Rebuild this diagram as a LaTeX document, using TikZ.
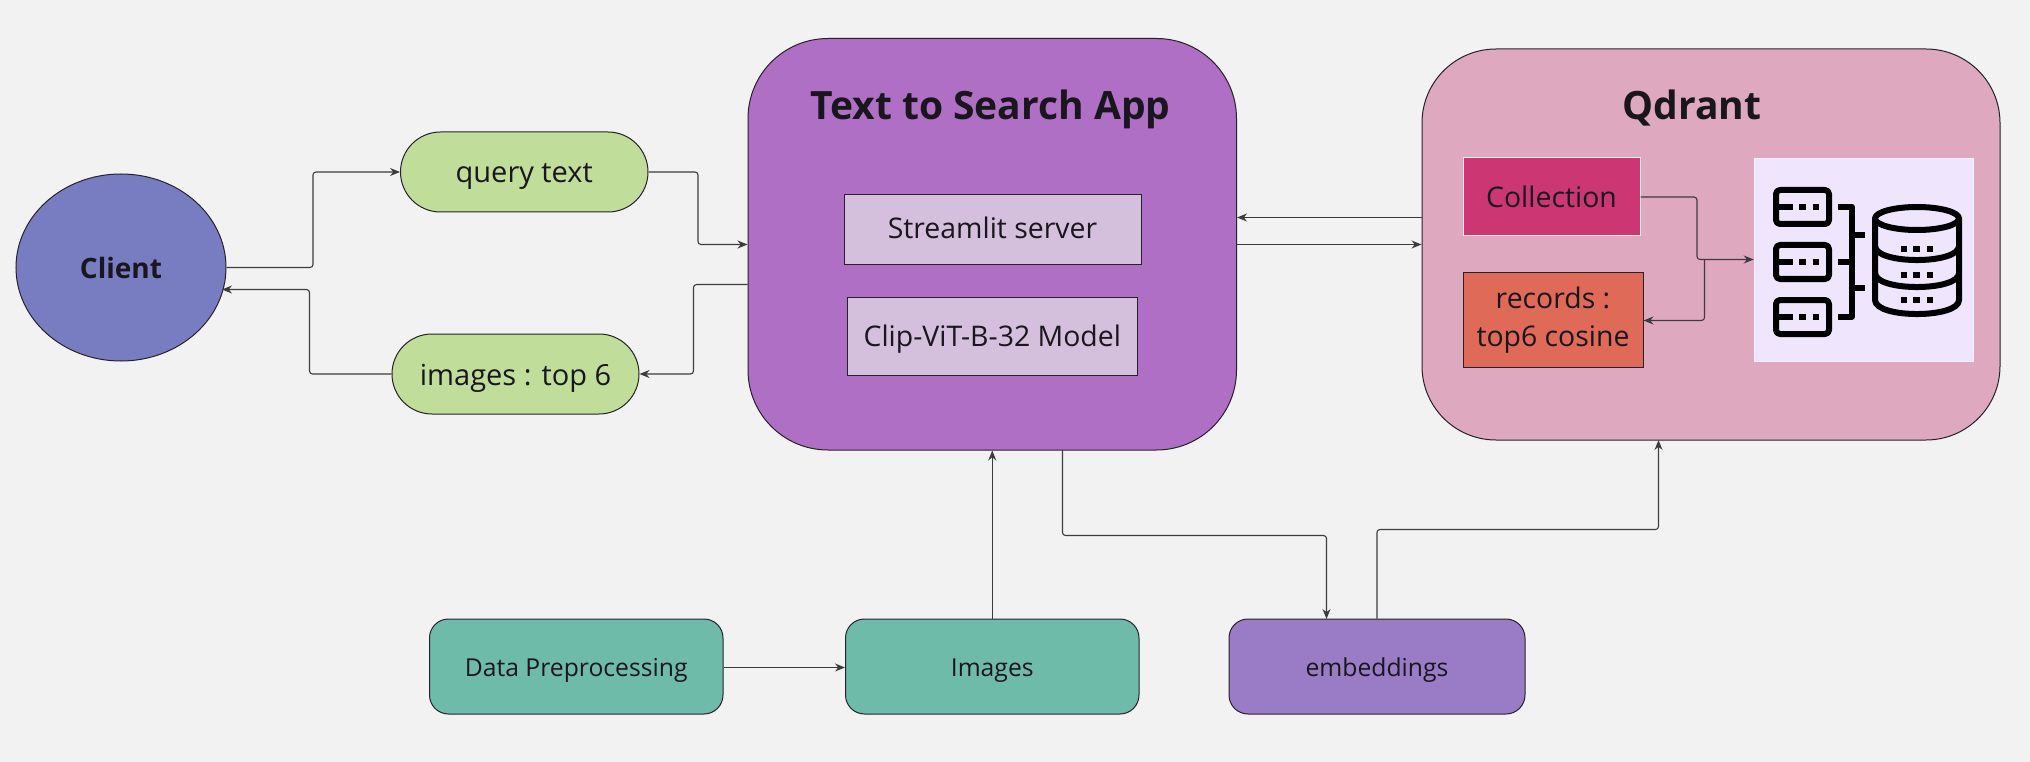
\documentclass[tikz,border=0pt]{standalone}
\usepackage{fontspec}
\setmainfont{Open Sans}
\usetikzlibrary{shapes.geometric,arrows.meta,calc}
\definecolor{bgc}{HTML}{F2F2F2}
\definecolor{linec}{HTML}{3C3C3C}
\definecolor{edgec}{HTML}{26222A}
\definecolor{txtc}{HTML}{1A161E}
\definecolor{clientc}{HTML}{787DC1}
\definecolor{greenc}{HTML}{C0DD9A}
\definecolor{appc}{HTML}{AF6FC4}
\definecolor{lilacc}{HTML}{D4BFDC}
\definecolor{qdc}{HTML}{DEA8BF}
\definecolor{collc}{HTML}{CC3673}
\definecolor{recc}{HTML}{DF6A58}
\definecolor{iconc}{HTML}{EFE6FD}
\definecolor{tealc}{HTML}{6FBBAA}
\definecolor{embc}{HTML}{9A7CC6}
\tikzset{
  x=1pt,y=-1pt,
  boxbase/.style={draw=edgec,line width=1pt,text=txtc,inner sep=0pt},
  pill/.style={boxbase,fill=greenc,rounded corners=40pt,font=\fontsize{29}{34}\selectfont,text height=22pt,text depth=0pt},
  bottombox/.style={boxbase,rounded corners=19pt,font=\fontsize{24.7}{30}\selectfont,text height=19pt,text depth=0pt},
  flat/.style={boxbase,font=\fontsize{28.4}{38}\selectfont},
  oneline/.style={text height=#1,text depth=0pt},
  appbox/.style={boxbase,rounded corners=80pt},
  qdbox/.style={boxbase,rounded corners=74pt},
  conn/.style={draw=linec,line width=1.1pt,rounded corners=3pt,-{Stealth[length=10pt,width=8pt]}},
  iconline/.style={draw=black,line width=6pt,line cap=butt,line join=round},
  heading/.style={text=txtc,font=\fontsize{39}{44}\selectfont\bfseries,inner sep=0pt,anchor=base},
}
\newcommand{\pxnode}[6]{% style,name,x0,y0,x1,y1 -- text follows
  \node[#1,minimum width=#5-#3,minimum height=#6-#4] (#2) at ({(#3+#5)/2},{(#4+#6)/2})}
\begin{document}
\begin{tikzpicture}
\useasboundingbox[fill=bgc] (0,0) rectangle (2030,762);

\node[boxbase,ellipse,fill=clientc,minimum width=210,minimum height=187,font=\fontsize{28}{34}\selectfont\bfseries] (client) at (121,267.5) {Client};
\pxnode{pill}{query}{400.5}{132}{648}{212} {query text};
\pxnode{pill}{topsix}{392}{334}{639}{414} {images : top 6};

\pxnode{appbox,fill=appc}{app}{748}{38.5}{1236.5}{450} {};
\node[heading] (apptitle) at (990.5,119.5) {Text to Search App};
\pxnode{flat,fill=lilacc,oneline=17.6pt}{streamlit}{844}{195}{1141}{264.5} {Streamlit server};
\pxnode{flat,fill=lilacc,oneline=21.4pt}{clip}{847.5}{297}{1137}{375.5} {Clip-ViT-B-32 Model};

\pxnode{qdbox,fill=qdc}{qdrant}{1422}{49}{2000}{440} {};
\node[heading] (qdtitle) at (1692,120) {Qdrant};
\pxnode{flat,fill=collc,draw=white!80!qdc,oneline=21.4pt}{coll}{1463}{158}{1640}{236} {Collection};
\pxnode{flat,fill=recc,align=center}{rec}{1463}{273}{1643}{367} {records :\\top6 cosine};
\pxnode{fill=iconc,draw=white!40!iconc,line width=.6pt,inner sep=0pt}{icon}{1754}{158}{1973}{361} {};

\pxnode{bottombox,fill=tealc}{prep}{429.5}{619}{723}{714} {Data Preprocessing};
\pxnode{bottombox,fill=tealc}{images}{845.5}{619}{1139}{714} {Images};
\pxnode{bottombox,fill=embc}{emb}{1229}{619}{1525}{714} {embeddings};

% connectors
\draw[conn] (client.east |- 0,267.5) -- (313,267.5) -- (313,172) -- (query.west |- 0,172);
\draw[conn] (query.east |- 0,172) -- (698,172) -- (698,244.5) -- (app.west |- 0,244.5);
\draw[conn] (app.west |- 0,284.5) -- (693.5,284.5) -- (693.5,374) -- (topsix.east |- 0,374);
\draw[conn] (topsix.west |- 0,374) -- (309.5,374) -- (309.5,289.5) -- (222,289.5);
\draw[conn] (qdrant.west |- 0,217.5) -- (app.east |- 0,217.5);
\draw[conn] (app.east |- 0,244.5) -- (qdrant.west |- 0,244.5);
\draw[conn] (coll.east |- 0,197) -- (1697,197) -- (1697,259.5) -- (icon.west |- 0,259.5);
\draw[conn] (1704.5,259.5) -- (1704.5,320.5) -- (rec.east |- 0,320.5);
\draw[conn] (prep.east |- 0,667.5) -- (images.west |- 0,667.5);
\draw[conn] (images.north) -- (app.south -| images.north);
\draw[conn] (1062.5,450) -- (1062.5,535.5) -- (1326.5,535.5) -- (1326.5,619);
\draw[conn] (emb.north) -- (1377,529.5) -- (1658.5,529.5) -- (1658.5,440);

% icon
\foreach \t in {190,245,300}{
  \draw[iconline,rounded corners=4pt] (1776,\t) rectangle (1829,\t+34);
  \draw[iconline] (1776,\t+17) -- (1792.7,\t+17);
  \draw[iconline] (1799,\t+17) -- (1806,\t+17);
  \draw[iconline] (1812.7,\t+17) -- (1819.3,\t+17);
}
\draw[iconline] (1838,206.7) -- (1851.7,206.7) -- (1851.7,316.7) -- (1838,316.7);
\draw[iconline] (1851.7,235.3) -- (1865,235.3);
\draw[iconline] (1838,261.7) -- (1851.7,261.7);
\draw[iconline] (1851.7,288) -- (1865,288);
\draw[iconline] (1917,218.5) ellipse[x radius=42,y radius=11.5];
\draw[iconline] (1875,218.5) -- (1875,300) .. controls (1875,318.7) and (1959,318.7) .. (1959,300) -- (1959,218.5);
\draw[iconline] (1875,246) .. controls (1875,264.7) and (1959,264.7) .. (1959,246);
\draw[iconline] (1875,273) .. controls (1875,291.7) and (1959,291.7) .. (1959,273);
\foreach \yy in {248.7,275,300.3}{
 \foreach \xx in {1904,1916.5,1930}{
  \draw[iconline] (\xx-3.2,\yy) -- (\xx+3.2,\yy);
 }
}
\end{tikzpicture}
\end{document}
